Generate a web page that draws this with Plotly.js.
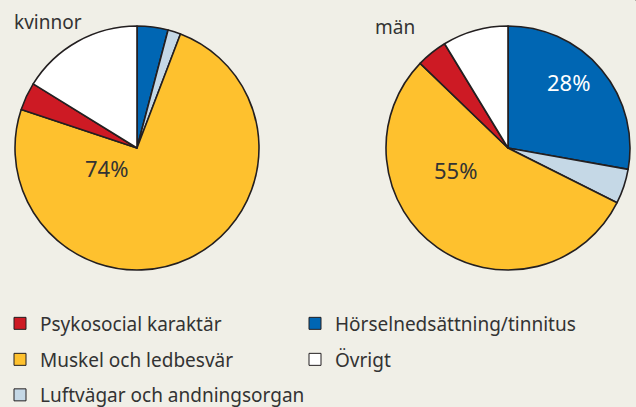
<!DOCTYPE html>
<html>
<head>
<meta charset="utf-8">
<script src="https://cdn.plot.ly/plotly-3.0.1.min.js"></script>
<style>html,body{margin:0;padding:0;background:#f0efe7;}</style>
</head>
<body>
<div id="chart" style="width:636px;height:407px;"></div>
<script>
// ---- data ----
// slice order (clockwise from 12 o'clock)
const categories = ["Hörselnedsättning/tinnitus", "Luftvägar och andningsorgan", "Muskel och ledbesvär", "Psykosocial karaktär", "Övrigt"];
const colors = ["#0066b3", "#c5d8e6", "#fec12e", "#cd1a24", "#ffffff"];
const kvinnor = [4.1, 1.7, 74.3, 3.7, 16.2];
const man = [27.8, 4.6, 54.8, 4.1, 8.7];
const groupNames = ["kvinnor", "män"];
// legend rows, in reading order
const legendRows = [
  ["Psykosocial karaktär", "Hörselnedsättning/tinnitus"],
  ["Muskel och ledbesvär", "Övrigt"],
  ["Luftvägar och andningsorgan"]
];
// which slices carry a percentage label: [series index, category]
const labelled = [[0, "Muskel och ledbesvär"], [1, "Muskel och ledbesvär"], [1, "Hörselnedsättning/tinnitus"]];

// ---- layout helpers ----
const W = 636, H = 407;
const px = x => x / W;
const py = y => 1 - y / H;
const lineCol = "#231f20";
const txtCol = "#333333";
const baseFont = "'Noto Sans', 'Liberation Sans', Arial, sans-serif";

const domains = [
  {x: [px(15), px(259)], y: [py(270), py(26)]},
  {x: [px(386), px(630)], y: [py(270), py(26)]}
];

const series = [kvinnor, man];
const traces = series.map((vals, k) => ({
  type: "pie",
  labels: categories,
  values: vals,
  sort: false,
  direction: "clockwise",
  rotation: 0,
  textinfo: "none",
  hoverinfo: "label+percent",
  showlegend: false,
  marker: {colors: colors, line: {color: lineCol, width: 1.6}},
  domain: domains[k]
}));

// legend-only traces (tiny, in a corner), one per legend row
const legendIds = ["legend", "legend2", "legend3"];
const legendTraces = legendRows.map((row, r) => ({
  type: "pie",
  labels: row,
  values: row.map(() => 1),
  sort: false,
  textinfo: "none",
  hoverinfo: "skip",
  marker: {colors: row.map(l => colors[categories.indexOf(l)]), line: {color: lineCol, width: 1}},
  domain: {x: [0.9999, 1], y: [0.9999, 1]},
  showlegend: true,
  legend: legendIds[r]
}));

// percentage annotations computed from data
const labelPos = [[106, 167.8], [456, 170.5], [568.5, 81.8]];
const pctAnn = labelled.map(([s, cat], i) => {
  const vals = series[s];
  const total = vals.reduce((a, b) => a + b, 0);
  const ci = categories.indexOf(cat);
  return {
    text: Math.round(vals[ci] / total * 100) + "%",
    xref: "paper", yref: "paper",
    x: px(labelPos[i][0]), y: py(labelPos[i][1]),
    xanchor: "center", yanchor: "middle",
    showarrow: false,
    font: {family: baseFont, size: 22, color: ci === 0 ? "#ffffff" : txtCol}
  };
});

const titlePos = [[12, 21.6], [373, 26.6]];
const titleAnn = groupNames.map((g, i) => ({
  text: g,
  xref: "paper", yref: "paper",
  x: px(titlePos[i][0]), y: py(titlePos[i][1]),
  xanchor: "left", yanchor: "middle",
  showarrow: false,
  font: {family: baseFont, size: 19, color: txtCol}
}));

const rowCenters = [323.5, 359.5, 395];
const legendStyle = (y, twoCols) => {
  const st = {
    orientation: "h",
    x: 0, xanchor: "left",
    y: py(y), yanchor: "middle",
    font: {family: baseFont, size: 19, color: txtCol},
    bgcolor: "rgba(0,0,0,0)"
  };
  if (twoCols) { st.entrywidth = 250; st.entrywidthmode = "pixels"; }
  return st;
};

const layout = {
  width: W, height: H,
  margin: {l: 0, r: 0, t: 0, b: 0, autoexpand: false},
  paper_bgcolor: "#f0efe7",
  plot_bgcolor: "#f0efe7",
  showlegend: true,
  legend: legendStyle(rowCenters[0], true),
  legend2: legendStyle(rowCenters[1], true),
  legend3: legendStyle(rowCenters[2], false),
  annotations: titleAnn.concat(pctAnn)
};

Plotly.newPlot("chart", traces.concat(legendTraces), layout, {displayModeBar: false, staticPlot: true});
</script>
</body>
</html>
